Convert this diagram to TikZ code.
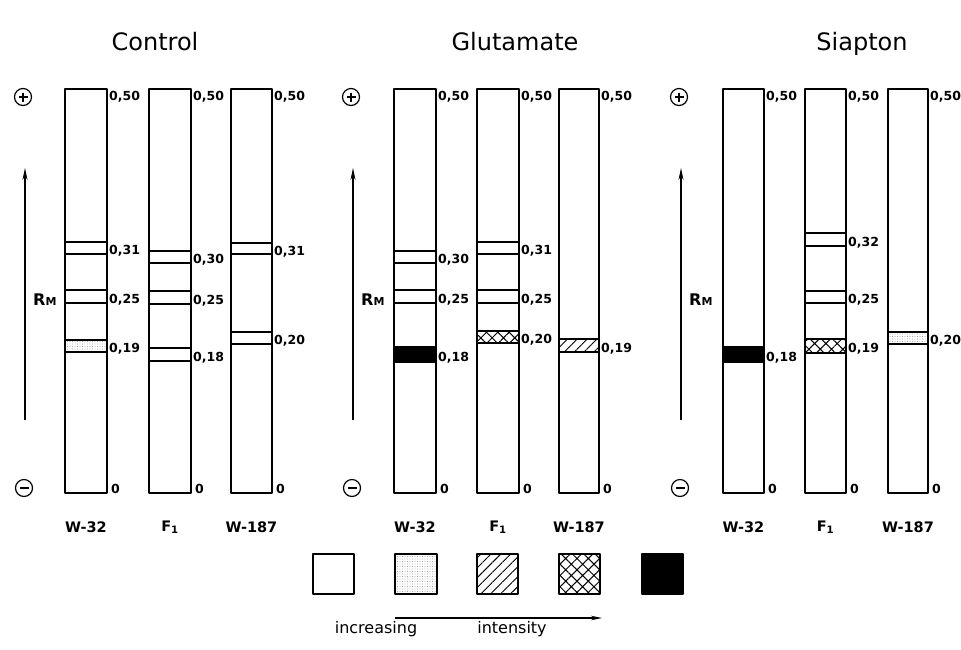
\documentclass[tikz,border=0pt]{standalone}
\usepackage{fontspec}
\setmainfont{DejaVu Sans}
\usetikzlibrary{patterns,patterns.meta,arrows.meta,calc}
\tikzset{
  stripline/.style={line width=1.7pt,line join=round},
  val/.style={font=\bfseries\fontsize{12.5}{13}\selectfont,inner sep=0pt},
  lanename/.style={font=\bfseries\fontsize{14.5}{15}\selectfont,inner sep=0pt},
  title/.style={font=\fontsize{24}{26}\selectfont,inner sep=0pt,anchor=base},
  pm/.style={circle,draw,line width=1.2pt,minimum size=17pt,inner sep=0pt},
  plainband/.style={fill=white},
  stipband/.style={pattern={Dots[distance=2.5pt,radius=0.45pt]},pattern color=black!55},
  hatchband/.style={pattern={Lines[angle=45,distance=7pt,line width=0.9pt]}},
  xhatchband/.style={pattern={Hatch[angle=45,distance=8pt,line width=1pt]}},
  solidband/.style={fill=black},
  uparrow/.style={line width=1.2pt,-{Stealth[length=12pt,width=5pt]}},
  legtext/.style={font=\fontsize{16}{17}\selectfont,inner sep=0pt,anchor=base},
}
\newcommand\lane[3]{%
  \draw[stripline] (#1,89) rectangle (#2,493);
  \node[val,anchor=west] at (#2+2,97) {0,50};
  \node[val,anchor=west] at (#2+4,489) {0};
  \node[lanename] at ({(#1+#2)/2},527) {#3};
}
\newcommand\bandmark[6]{%
  \draw[stripline,#5] (#1,#3) rectangle (#2,#4);
  \node[val,anchor=west] at (#2+2,{(#3+#4)/2+3}) {#6};
}
\newcommand\axis[2]{%
  \node[pm] (plus#1) at (#2,97) {};
  \draw[line width=1.1pt] ($(plus#1)+(-4.5,0)$) -- ($(plus#1)+(4.5,0)$) ($(plus#1)+(0,-4.5)$) -- ($(plus#1)+(0,4.5)$);
  \node[pm] (minus#1) at (#2+1,488) {};
  \draw[line width=1.1pt] ($(minus#1)+(-4.5,0)$) -- ($(minus#1)+(4.5,0)$);
  \coordinate (abot#1) at (#2+2,420);
  \coordinate (atop#1) at (#2+2,168);
  \draw[uparrow] (abot#1) -- (atop#1);
  \node[font=\bfseries\fontsize{16}{17}\selectfont,anchor=west,inner sep=0pt] at (#2+10,300) {R{\fontsize{11}{12}\selectfont M}};
}
\begin{document}
\begin{tikzpicture}[x=1pt,y=-1pt]
\useasboundingbox[fill=white] (0,0) rectangle (961,649);
% titles
\node[title] (t1) at (155,50) {Control};
\node[title] (t2) at (515,50) {Glutamate};
\node[title] (t3) at (862,50) {Siapton};
% axes
\axis{a}{23}
\axis{b}{351}
\axis{c}{679}
% Control
\lane{65}{107}{W-32}
\bandmark{65}{107}{242}{254}{plainband}{0,31}
\bandmark{65}{107}{290}{303}{plainband}{0,25}
\bandmark{65}{107}{340}{352}{stipband}{0,19}
\lane{149}{191}{F\textsubscript{1}}
\bandmark{149}{191}{251}{263}{plainband}{0,30}
\bandmark{149}{191}{291}{304}{plainband}{0,25}
\bandmark{149}{191}{348}{361}{plainband}{0,18}
\lane{231}{272}{W-187}
\bandmark{231}{272}{243}{254}{plainband}{0,31}
\bandmark{231}{272}{332}{344}{plainband}{0,20}
% Glutamate
\lane{394}{436}{W-32}
\bandmark{394}{436}{251}{263}{plainband}{0,30}
\bandmark{394}{436}{290}{303}{plainband}{0,25}
\bandmark{394}{436}{347}{362}{solidband}{0,18}
\lane{477}{519}{F\textsubscript{1}}
\bandmark{477}{519}{242}{254}{plainband}{0,31}
\bandmark{477}{519}{290}{303}{plainband}{0,25}
\bandmark{477}{519}{331}{343}{xhatchband}{0,20}
\lane{559}{599}{W-187}
\bandmark{559}{599}{339}{352}{hatchband}{0,19}
% Siapton
\lane{723}{764}{W-32}
\bandmark{723}{764}{347}{362}{solidband}{0,18}
\lane{805}{846}{F\textsubscript{1}}
\bandmark{805}{846}{233}{246}{plainband}{0,32}
\bandmark{805}{846}{291}{303}{plainband}{0,25}
\bandmark{805}{846}{339}{353}{xhatchband}{0,19}
\lane{888}{928}{W-187}
\bandmark{888}{928}{332}{344}{stipband}{0,20}
% legend
\draw[stripline,plainband] (313,554) rectangle (354,594);
\draw[stripline,stipband] (395,554) rectangle (437,594);
\draw[stripline,hatchband] (477,554) rectangle (518,594);
\draw[stripline,xhatchband] (559,554) rectangle (600,594);
\draw[stripline,solidband] (642,554) rectangle (683,594);
\coordinate (la) at (395,618);
\coordinate (lb) at (602,618);
\draw[line width=1.2pt,-{Stealth[length=11pt,width=4.5pt]}] (la) -- (lb);
\node[legtext] (inc) at (376,633) {increasing};
\node[legtext] (int) at (512,633) {intensity};
\end{tikzpicture}
\end{document}
